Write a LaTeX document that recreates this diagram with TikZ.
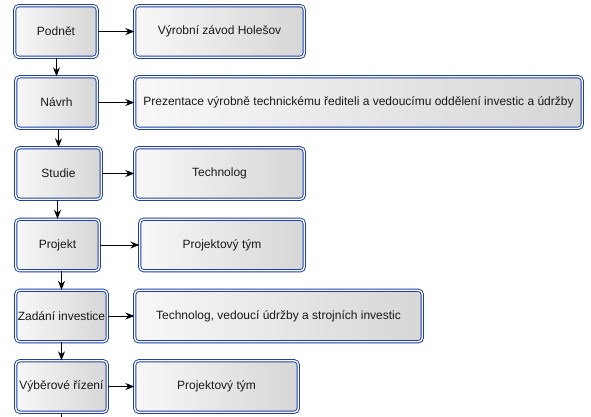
\documentclass[tikz,border=0pt]{standalone}
\usepackage{fontspec}
\setmainfont{Liberation Sans}
\usetikzlibrary{positioning,arrows,arrows.meta,shadows}
\definecolor{colorwhite}   {RGB}{255,255,255}
\definecolor{colortext}    {RGB}{ 25, 25, 25}
\definecolor{colorborder}  {RGB}{ 28, 66,168}
\definecolor{colorinner}   {RGB}{250,250,252}
\definecolor{colorlight}   {RGB}{248,248,248}
\definecolor{colorshade}   {RGB}{214,214,214}
\definecolor{colorshadow}  {RGB}{150,150,150}

\begin{document}
\begin{tikzpicture}[
    x=1pt, y=-1pt,
    box/.style={draw=colorborder,double=colorinner,double distance=1.4pt,line width=0.9pt,
        rounded corners=4pt,left color=colorlight,right color=colorshade,
        drop shadow={shadow xshift=1.5pt,shadow yshift=-1.5pt,opacity=0.25,fill=colorshadow},
        text=colortext,font={\fontsize{12}{14}\selectfont},inner sep=2pt,
        minimum height=51.5pt},
    flow/.style={-{Stealth[length=9pt,width=7pt,inset=3pt]},black,line width=0.8pt},
]
    \useasboundingbox (0,0) rectangle (591,416);

    % Steps
    \node[box,minimum width=82.5pt] at (56,31.5) (podnet) {Podnět};
    \node[box,minimum width=81.5pt] at (56.5,102.5) (navrh) {Návrh};
    \node[box,minimum width=85.5pt] at (58.5,173.5) (studie) {Studie};
    \node[box,minimum width=83.5pt] at (57.5,245) (projekt) {Projekt};
    \node[box,minimum width=91.5pt] at (61.5,316) (zadani) {Zadání investice};
    \node[box,minimum width=91.5pt] at (61.5,386.5) (vyber) {Výběrové řízení};

    % Who
    \node[box,minimum width=169.5pt] at (219.5,31.5) (zavod) {Výrobní závod Holešov};
    \node[box,minimum width=447.5pt] at (358.5,102.5) (prezentace) {Prezentace výrobně technickému řediteli a vedoucímu oddělení investic a údržby};
    \node[box,minimum width=169.5pt] at (219.5,173.5) (technolog) {Technolog};
    \node[box,minimum width=164.5pt] at (222,245) (tym1) {Projektový tým};
    \node[box,minimum width=287.5pt] at (278.5,316) (vedouci) {Technolog, vedoucí údržby a strojních investic};
    \node[box,minimum width=163.5pt] at (216.5,386.5) (tym2) {Projektový tým};
    \coordinate (dalsi) at (vyber.south |- 0,430);

    % Arrows
    \draw[flow] (podnet.south -| navrh.north) -- (navrh.north); % podnet to navrh
    \draw[flow] (navrh.south -| studie.north) -- (studie.north); % navrh to studie
    \draw[flow] (studie.south -| projekt.north) -- (projekt.north); % studie to projekt
    \draw[flow] (projekt.south -| zadani.north) -- (zadani.north); % projekt to zadani
    \draw[flow] (zadani.south) -- (vyber.north); % zadani to vyber
    \draw[black,line width=0.8pt] (vyber.south) -- (dalsi); % vyber to next step
    \draw[flow] (podnet) -- (zavod);
    \draw[flow] (navrh) -- (prezentace);
    \draw[flow] (studie) -- (technolog);
    \draw[flow] (projekt) -- (tym1);
    \draw[flow] (zadani) -- (vedouci);
    \draw[flow] (vyber) -- (tym2);

\end{tikzpicture}
\end{document}
